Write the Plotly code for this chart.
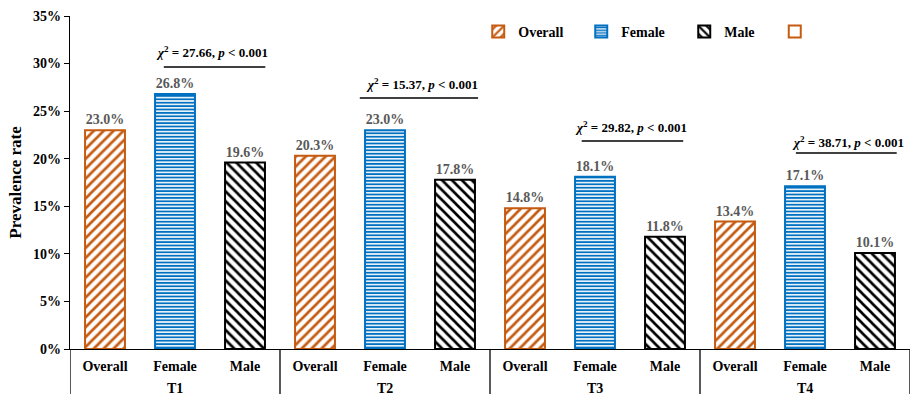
import plotly.graph_objects as go

# ---- data ----
groups = ["T1", "T2", "T3", "T4"]
categories = ["Overall", "Female", "Male"]
overall = [23.0, 20.3, 14.8, 13.4]
female = [26.8, 23.0, 18.1, 17.1]
male = [19.6, 17.8, 11.8, 10.1]
chi2 = ["27.66", "15.37", "29.82", "38.71"]
yticks = [0, 5, 10, 15, 20, 25, 30, 35]

# ---- layout helpers (positions, not data) ----
chi_text_x = [1.53, 4.53, 7.51, 10.61]
chi_text_y = [31.2, 27.85, 23.33, 21.76]
chi_line_x = [(0.84, 2.29), (3.64, 5.33), (6.81, 8.26), (9.87, 11.31)]
chi_line_y = [29.64, 26.38, 21.86, 20.6]

FONT = "Liberation Serif, Times New Roman, serif"
ORANGE = "#C55A11"
BLUE = "#0070C0"
BLACK = "#000000"
GRAY = "#595959"

n = len(groups)
x_over = [3 * i + 0 for i in range(n)]
x_fem = [3 * i + 1 for i in range(n)]
x_male = [3 * i + 2 for i in range(n)]

def fmt(vals):
    return [f"{v:.1f}%" for v in vals]

fig = go.Figure()
specs = [
    ("Overall", x_over, overall, ORANGE, "/", 7, 0.38),
    ("Female", x_fem, female, BLUE, "-", 3.4, 0.55),
    ("Male", x_male, male, BLACK, "\\", 7, 0.38),
]
for name, xs, ys, col, shape, size, sol in specs:
    fig.add_trace(go.Bar(
        name=name, x=xs, y=ys, width=0.57,
        text=fmt(ys), textposition="outside", cliponaxis=False,
        textfont=dict(family=FONT, size=14, color=GRAY, weight="bold"),
        marker=dict(color="white", line=dict(color=col, width=2),
                    pattern=dict(shape=shape, fgcolor=col, bgcolor="white",
                                 size=size, solidity=sol, fillmode="replace")),
    ))
# empty fourth legend entry
fig.add_trace(go.Bar(name=" ", x=[None], y=[None], legend="legend2",
                     marker=dict(color="white", line=dict(color=ORANGE, width=2))))

shapes = []
annotations = []
for i in range(n):
    x0, x1 = chi_line_x[i]
    shapes.append(dict(type="line", xref="x", yref="y", x0=x0, x1=x1,
                       y0=chi_line_y[i], y1=chi_line_y[i],
                       line=dict(color="black", width=1.5)))
    annotations.append(dict(
        xref="x", yref="y", x=chi_text_x[i], y=chi_text_y[i], showarrow=False,
        text=f"<b><i>χ</i><sup>2</sup> = {chi2[i]}, <i>p</i> &lt; 0.001</b>",
        font=dict(family=FONT, size=13, color="black")))
    annotations.append(dict(
        xref="x", yref="paper", x=3 * i + 1, y=-0.12, yanchor="middle",
        showarrow=False, text=f"<b>{groups[i]}</b>",
        font=dict(family=FONT, size=14, color="black")))
# group dividers
for i in range(n + 1):
    shapes.append(dict(type="line", xref="x", yref="paper",
                       x0=3 * i - 0.5, x1=3 * i - 0.5, y0=0, y1=-0.2,
                       line=dict(color="black", width=1.3)))

legend_font = dict(family=FONT, size=14, color="black", weight="bold")
fig.update_layout(
    width=910, height=394,
    margin=dict(l=70, r=0, t=16, b=45),
    plot_bgcolor="white", paper_bgcolor="white",
    barmode="overlay", showlegend=True,
    font=dict(family=FONT, size=14, color="black"),
    legend=dict(orientation="h", x=0.486, y=1.0, xanchor="left", yanchor="top",
                entrywidth=58, entrywidthmode="pixels",
                font=legend_font, bgcolor="rgba(0,0,0,0)"),
    legend2=dict(orientation="h", x=0.839, y=1.0, xanchor="left", yanchor="top",
                 font=legend_font, bgcolor="rgba(0,0,0,0)"),
    shapes=shapes, annotations=annotations,
    xaxis=dict(range=[-0.5, 11.5], tickvals=list(range(3 * n)),
               ticktext=[f"<b>{c}</b>" for c in categories * n],
               showline=True, linecolor="black", linewidth=1.3,
               ticks="", ticklabelstandoff=4, showgrid=False, zeroline=False,
               tickfont=dict(family=FONT, size=14, color="black")),
    yaxis=dict(range=[0, 35], tickvals=yticks,
               ticktext=[f"<b>{v}%</b>" for v in yticks],
               showline=True, linecolor="black", linewidth=1.3,
               ticks="outside", ticklen=5, tickcolor="black", tickwidth=1.3,
               showgrid=False, zeroline=False,
               tickfont=dict(family=FONT, size=14, color="black"),
               title=dict(text="<b>Prevalence rate</b>", standoff=7,
                          font=dict(family=FONT, size=17, color="black"))),
)

fig.write_html("out.html")
